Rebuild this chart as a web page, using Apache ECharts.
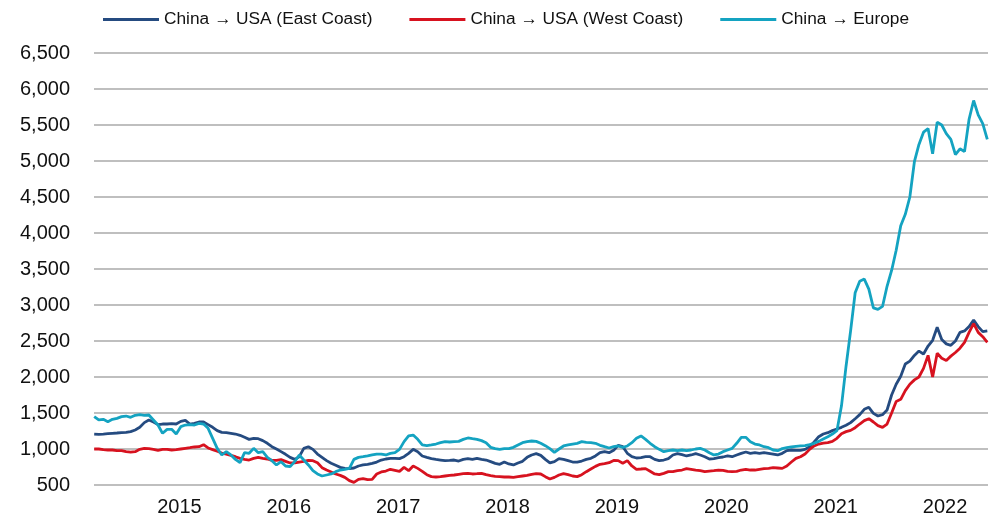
<!DOCTYPE html>
<html>
<head>
<meta charset="utf-8">
<script src="https://cdn.jsdelivr.net/npm/echarts@6/dist/echarts.min.js"></script>
<style>
  html, body { margin: 0; padding: 0; background: #fff; }
  #chart { width: 991px; height: 522px; }
</style>
</head>
<body>
<div id="chart"></div>
<script>
// ---- Data (weekly-index freight rates, sampled twice a month) ----
const seriesNames = ['China \u2192 USA (East Coast)', 'China \u2192 USA (West Coast)', 'China \u2192 Europe'];
const yearTicks = [2015, 2016, 2017, 2018, 2019, 2020, 2021, 2022];
const startYear = 2014.22;      // first observation (decimal year)
const stepYear = 1 / 24;        // semi-monthly observations
const axisStart = 2014.2182;
const axisEnd = 2022.393;

const eastCoast = [
  1208,1204,1208,1213,1218,1222,1227,1231,1241,1264,
  1301,1366,1403,1375,1338,1347,1347,1352,1347,1384,
  1398,1347,1356,1375,1375,1338,1301,1255,1231,1227,
  1218,1208,1190,1162,1134,1148,1143,1116,1079,1032,
  1000,963,926,884,856,893,1009,1032,995,930,
  884,838,801,773,745,731,727,736,764,778,
  787,801,819,847,861,870,870,866,893,940,
  995,963,903,884,866,856,847,838,842,847,
  833,856,866,856,870,856,847,824,801,787,
  819,792,778,806,829,884,917,935,912,856,
  806,824,866,856,838,819,819,833,856,870,
  903,949,963,949,981,1051,1032,940,893,875,
  880,893,893,856,838,847,866,917,935,921,
  903,917,935,917,893,861,866,880,889,903,
  893,917,940,958,940,949,940,949,940,930,
  917,940,977,986,981,981,995,1032,1097,1171,
  1208,1227,1255,1278,1301,1329,1366,1421,1477,1551,
  1579,1495,1458,1477,1542,1750,1900,2010,2180,2220,
  2300,2360,2320,2430,2510,2690,2520,2460,2440,2500,
  2620,2640,2700,2790,2700,2630,2640
];

const westCoast = [
  1000,1000,991,986,986,977,977,963,958,963,
  995,1009,1005,995,981,995,995,986,991,1000,
  1009,1018,1028,1032,1060,1014,991,968,944,930,
  912,893,870,856,847,870,884,870,861,842,
  842,852,829,806,806,819,829,842,838,810,
  741,708,681,653,634,606,560,537,579,588,
  574,579,653,681,694,718,704,690,745,699,
  764,731,690,643,616,611,616,625,634,639,
  648,657,662,653,657,662,643,630,620,616,
  611,611,606,616,625,634,648,657,653,616,
  583,606,639,657,643,625,616,643,685,722,
  759,787,796,810,842,838,801,838,764,718,
  722,727,690,653,643,662,685,685,699,708,
  727,718,708,699,685,694,699,708,704,690,
  685,690,708,718,708,708,718,727,731,741,
  736,731,764,819,870,893,930,995,1042,1069,
  1083,1088,1106,1148,1213,1241,1259,1296,1347,1394,
  1421,1375,1324,1301,1347,1500,1660,1690,1810,1900,
  1960,2000,2120,2300,2000,2330,2260,2230,2290,2340,
  2400,2480,2620,2740,2620,2560,2480
];

const europe = [
  1449,1403,1412,1380,1412,1426,1449,1458,1440,1468,
  1477,1468,1472,1403,1333,1218,1273,1273,1208,1310,
  1333,1338,1333,1356,1347,1287,1148,1009,917,963,
  917,856,810,949,940,1009,949,963,884,838,
  778,824,764,755,824,917,847,778,699,653,
  625,639,653,685,708,718,731,856,884,893,
  903,917,930,930,917,940,949,995,1102,1181,
  1194,1134,1056,1046,1056,1069,1088,1102,1097,1102,
  1106,1134,1153,1143,1134,1116,1088,1023,1005,995,
  1005,1005,1023,1056,1088,1102,1111,1106,1079,1046,
  1005,954,1000,1042,1056,1069,1079,1102,1093,1088,
  1079,1051,1032,1014,1032,1042,1023,1042,1088,1148,
  1181,1134,1079,1032,995,963,977,986,977,986,
  977,986,1000,1009,986,949,917,930,963,986,
  1009,1079,1162,1162,1102,1069,1056,1032,1018,986,
  977,1005,1018,1028,1037,1042,1046,1060,1079,1106,
  1139,1171,1208,1255,1600,2150,2640,3170,3330,3360,
  3220,2960,2940,2980,3260,3480,3760,4100,4260,4500,
  4990,5230,5400,5450,5100,5540,5500,5380,5300,5090,
  5170,5130,5580,5840,5640,5520,5300
];

const colors = ['#254B80', '#D7121F', '#14A3C1'];

function toPoints(values) {
  return values.map((v, i) => [startYear + i * stepYear, v]);
}

const FONT = '"Liberation Sans", Arial, sans-serif';
const chart = echarts.init(document.getElementById('chart'));
const option = {
  animation: false,
  color: colors,
  grid: { left: 94, right: 3, top: 53, bottom: 37, containLabel: false },
  legend: {
    top: 6, left: 98,
    icon: 'rect', itemWidth: 56, itemHeight: 3, itemGap: 37,
    textStyle: { fontSize: 17.3, fontFamily: FONT, color: '#111' },
    data: seriesNames
  },
  xAxis: {
    type: 'value', min: axisStart, max: axisEnd,
    axisLine: { show: false }, axisTick: { show: false }, splitLine: { show: false },
    axisLabel: {
      customValues: yearTicks,
      formatter: v => String(Math.round(v)),
      fontSize: 20, fontFamily: FONT, color: '#111', margin: 12
    }
  },
  yAxis: {
    type: 'value', min: 500, max: 6500, interval: 500,
    axisLine: { show: false }, axisTick: { show: false },
    splitLine: { lineStyle: { color: '#BFBFBF', width: 2 } },
    axisLabel: {
      formatter: v => v.toLocaleString('en-US'),
      fontSize: 20, fontFamily: FONT, color: '#111', margin: 24
    }
  },
  series: [
    { name: seriesNames[0], type: 'line', data: toPoints(eastCoast), symbol: 'none', lineStyle: { width: 2.8 } },
    { name: seriesNames[1], type: 'line', data: toPoints(westCoast), symbol: 'none', lineStyle: { width: 2.8 } },
    { name: seriesNames[2], type: 'line', data: toPoints(europe), symbol: 'none', lineStyle: { width: 2.8 } }
  ]
};
chart.setOption(option);
</script>
</body>
</html>
